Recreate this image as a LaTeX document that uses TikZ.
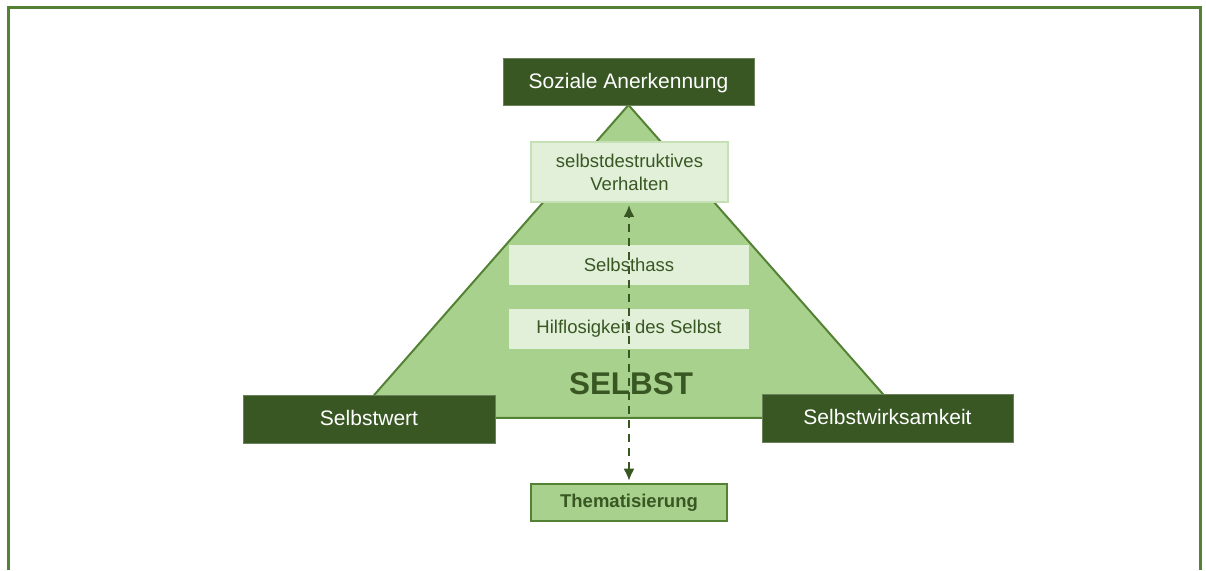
\documentclass[tikz,border=0pt]{standalone}
\usepackage{fontspec}
\setmainfont{Liberation Sans}
\usetikzlibrary{arrows.meta}
\definecolor{darkgreen}{HTML}{385723}
\definecolor{midgreen}{HTML}{548235}
\definecolor{lightgreen}{HTML}{A9D18E}
\definecolor{palegreen}{HTML}{E2F0D9}
\definecolor{softgreen}{HTML}{C5E0B4}

\begin{document}
\begin{tikzpicture}[x=1pt,y=1pt]

\tikzstyle{dark}=[rectangle, fill=darkgreen, draw=darkgreen!75!white, line width=0.8pt, text=white, font=\fontsize{21}{25}\selectfont, inner sep=0pt, text depth=2pt]
\tikzstyle{pale}=[rectangle, fill=palegreen, text=darkgreen, font=\fontsize{18.5}{23}\selectfont, inner sep=0pt, align=center]
\tikzstyle{connect}=[{Latex[length=12pt,width=11pt]}-{Latex[length=12pt,width=11pt]}, dash pattern=on 8pt off 6pt, line width=2pt, darkgreen, shorten <=2pt, shorten >=2pt]

\useasboundingbox (0,0) rectangle (1206,570);
\draw[midgreen, line width=3pt] (8,0) -- (8,562) -- (1200,562) -- (1200,0);

% triangle behind the boxes
\coordinate (apex) at (628.5,465);
\draw[fill=lightgreen, draw=midgreen, line width=2pt] (apex) -- (904,152) -- (354,152) -- cycle;

\node[dark, minimum width=251pt, minimum height=47pt] (sozial) at (628.5,488.5) {Soziale Anerkennung};
\node[dark, minimum width=252pt, minimum height=48pt] (wert) at (369,151) {Selbstwert};
\node[dark, minimum width=251pt, minimum height=48pt] (wirk) at (887.5,152) {Selbstwirksamkeit};

\node[pale, draw=softgreen, line width=2pt, minimum width=197pt, minimum height=60pt] (verhalten) at (629.5,398) {selbstdestruktives\\Verhalten};
\node[pale, minimum width=240pt, minimum height=40pt] (hass) at (629,305) {Selbsthass};
\node[pale, minimum width=240pt, minimum height=40pt] (hilf) at (629,241) {Hilflosigkeit des Selbst};

\node[text=darkgreen, font=\bfseries\fontsize{31.4}{36}\selectfont] (selbst) at (631,186) {SELBST};

\node[rectangle, fill=lightgreen, draw=midgreen, line width=2.5pt, text=darkgreen, font=\bfseries\fontsize{18.5}{22}\selectfont, minimum width=196pt, minimum height=37pt, inner sep=0pt] (thema) at (629,67.5) {Thematisierung};

\path [connect] (thema.north) edge (thema.north |- verhalten.south);

\end{tikzpicture}
\end{document}
